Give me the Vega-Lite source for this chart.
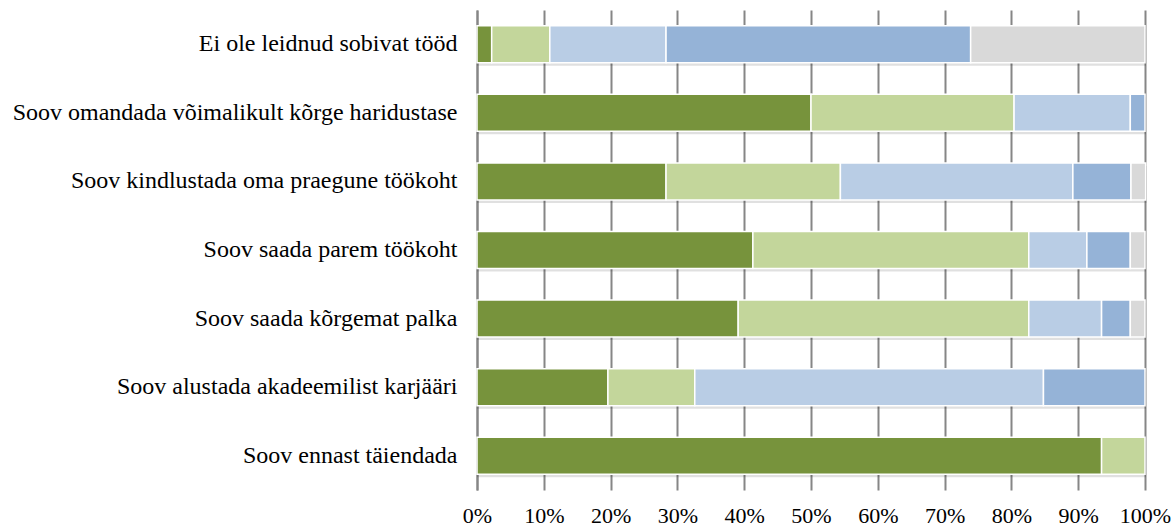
{
  "$schema": "https://vega.github.io/schema/vega-lite/v6.json",
  "width": 668,
  "height": 480,
  "autosize": "none",
  "padding": {"left": 477, "top": 10, "right": 30, "bottom": 38},
  "background": "white",
  "config": {"view": {"stroke": null}, "font": "Liberation Serif", "axis": {"labelFont": "Liberation Serif"}},
  "data": {"values": [
    {"cat": "Ei ole leidnud sobivat tööd", "k": "1", "pct": 2.2},
    {"cat": "Ei ole leidnud sobivat tööd", "k": "2", "pct": 8.7},
    {"cat": "Ei ole leidnud sobivat tööd", "k": "3", "pct": 17.4},
    {"cat": "Ei ole leidnud sobivat tööd", "k": "4", "pct": 45.6},
    {"cat": "Ei ole leidnud sobivat tööd", "k": "5", "pct": 26.1},
    {"cat": "Soov omandada võimalikult kõrge haridustase", "k": "1", "pct": 50.0},
    {"cat": "Soov omandada võimalikult kõrge haridustase", "k": "2", "pct": 30.4},
    {"cat": "Soov omandada võimalikult kõrge haridustase", "k": "3", "pct": 17.4},
    {"cat": "Soov omandada võimalikult kõrge haridustase", "k": "4", "pct": 2.2},
    {"cat": "Soov kindlustada oma praegune töökoht", "k": "1", "pct": 28.3},
    {"cat": "Soov kindlustada oma praegune töökoht", "k": "2", "pct": 26.1},
    {"cat": "Soov kindlustada oma praegune töökoht", "k": "3", "pct": 34.8},
    {"cat": "Soov kindlustada oma praegune töökoht", "k": "4", "pct": 8.7},
    {"cat": "Soov kindlustada oma praegune töökoht", "k": "5", "pct": 2.2},
    {"cat": "Soov saada parem töökoht", "k": "1", "pct": 41.3},
    {"cat": "Soov saada parem töökoht", "k": "2", "pct": 41.3},
    {"cat": "Soov saada parem töökoht", "k": "3", "pct": 8.7},
    {"cat": "Soov saada parem töökoht", "k": "4", "pct": 6.5},
    {"cat": "Soov saada parem töökoht", "k": "5", "pct": 2.2},
    {"cat": "Soov saada kõrgemat palka", "k": "1", "pct": 39.1},
    {"cat": "Soov saada kõrgemat palka", "k": "2", "pct": 43.5},
    {"cat": "Soov saada kõrgemat palka", "k": "3", "pct": 10.9},
    {"cat": "Soov saada kõrgemat palka", "k": "4", "pct": 4.3},
    {"cat": "Soov saada kõrgemat palka", "k": "5", "pct": 2.2},
    {"cat": "Soov alustada akadeemilist karjääri", "k": "1", "pct": 19.6},
    {"cat": "Soov alustada akadeemilist karjääri", "k": "2", "pct": 13.0},
    {"cat": "Soov alustada akadeemilist karjääri", "k": "3", "pct": 52.2},
    {"cat": "Soov alustada akadeemilist karjääri", "k": "4", "pct": 15.2},
    {"cat": "Soov ennast täiendada", "k": "1", "pct": 93.5},
    {"cat": "Soov ennast täiendada", "k": "2", "pct": 6.5}
  ]},
  "encoding": {
    "y": {
      "field": "cat", "type": "nominal", "sort": null,
      "scale": {"paddingInner": 0.46, "paddingOuter": 0.23},
      "axis": {
        "title": null, "ticks": false, "labelFont": "Liberation Serif", "labelFontSize": 24, "labelColor": "black",
        "labelPadding": 20, "labelLimit": 0, "domain": true, "domainColor": "#868686",
        "domainWidth": 2, "grid": false
      }
    }
  },
  "layer": [
    {
      "mark": {"type": "bar", "color": "#000000", "opacity": 0.12, "yOffset": 3, "xOffset": 1},
      "encoding": {
        "x": {"aggregate": "sum", "field": "pct", "type": "quantitative", "scale": {"domain": [0, 100], "nice": false},
          "axis": {
            "title": null, "orient": "bottom", "values": [0,10,20,30,40,50,60,70,80,90,100],
            "labelExpr": "datum.value + '%'", "labelFont": "Liberation Serif", "labelFontSize": 22, "labelColor": "black",
            "labelPadding": 15, "labelOverlap": false, "labelFlush": false, "ticks": false, "domain": false,
            "grid": true, "gridColor": "#868686", "gridWidth": 2
          }
        }
      }
    },
    {
      "mark": {"type": "bar", "stroke": "white", "strokeWidth": 1.5},
      "encoding": {
        "x": {"field": "pct", "type": "quantitative", "stack": "zero"},
        "color": {
          "field": "k", "type": "nominal", "legend": null,
          "scale": {"domain": ["1","2","3","4","5"], "range": ["#77933C", "#C3D69B", "#B9CDE5", "#95B3D7", "#D9D9D9"]}
        },
        "order": {"field": "k", "type": "ordinal"}
      }
    }
  ]
}
